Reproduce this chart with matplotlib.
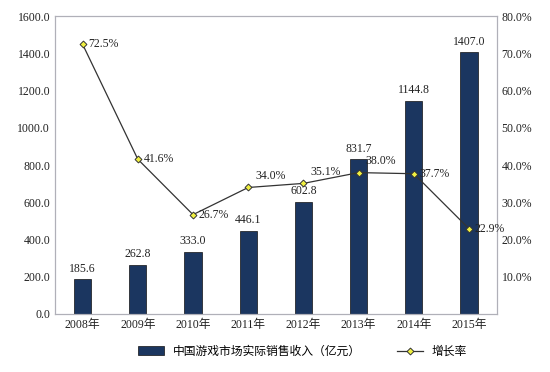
import matplotlib.pyplot as plt
from matplotlib.ticker import FuncFormatter

plt.rcParams['font.family'] = ['Liberation Serif', 'Noto Sans CJK SC', 'DejaVu Sans']

years = ['2008年', '2009年', '2010年', '2011年', '2012年', '2013年', '2014年', '2015年']
revenue = [185.6, 262.8, 333.0, 446.1, 602.8, 831.7, 1144.8, 1407.0]
growth = [72.5, 41.6, 26.7, 34.0, 35.1, 38.0, 37.7, 22.9]
# growth labels sitting above the point instead of beside it
raised = [False, False, False, True, True, True, False, False]

bar_color = '#1b3660'
x = list(range(len(years)))

fig = plt.figure(figsize=(5.5, 3.72), dpi=100)
ax = fig.add_axes([0.10, 0.156, 0.803, 0.80])
ax2 = ax.twinx()

bars = ax.bar(x, revenue, width=0.31, color=bar_color, edgecolor='#111111', linewidth=0.5, zorder=2)
for xi, v in zip(x, revenue):
    ax.text(xi, v + 25, f'{v:.1f}', ha='center', va='bottom', fontsize=8.5, color='#222222')

ax.set_ylim(0, 1600)
ax.set_yticks(range(0, 1601, 200))
ax.yaxis.set_major_formatter(FuncFormatter(lambda v, p: f'{v:.1f}'))
ax.set_xlim(-0.5, len(years) - 0.5)
ax.set_xticks(x)
ax.set_xticklabels(years)

line, = ax2.plot(x, growth, color='#333333', linewidth=0.9, marker='D', markersize=3.5,
                 markerfacecolor='#f0f040', markeredgecolor='#333333', markeredgewidth=0.7, zorder=3)
for xi, g, up in zip(x, growth, raised):
    if up:
        ax2.annotate(f'{g:.1f}%', (xi, g), xytext=(5, 8), textcoords='offset points',
                     ha='left', va='center', fontsize=8.5, color='#222222')
    else:
        ax2.annotate(f'{g:.1f}%', (xi, g), xytext=(4, 0), textcoords='offset points',
                     ha='left', va='center', fontsize=8.5, color='#222222')
ax2.set_ylim(0, 80)
ax2.set_yticks(range(10, 81, 10))
ax2.yaxis.set_major_formatter(FuncFormatter(lambda v, p: f'{v:.1f}%'))

for a in (ax, ax2):
    a.tick_params(length=0, labelsize=8.5, colors='#222222')
    for s in a.spines.values():
        s.set_color('#b0b0b8')
        s.set_linewidth(0.8)

fig.legend([bars, line], ['中国游戏市场实际销售收入（亿元）', '增长率'], loc='lower center',
           bbox_to_anchor=(0.55, 0.01), ncol=2, frameon=False, fontsize=8.5,
           handlelength=2.2, columnspacing=3)

fig.savefig('out.png', dpi=100)
